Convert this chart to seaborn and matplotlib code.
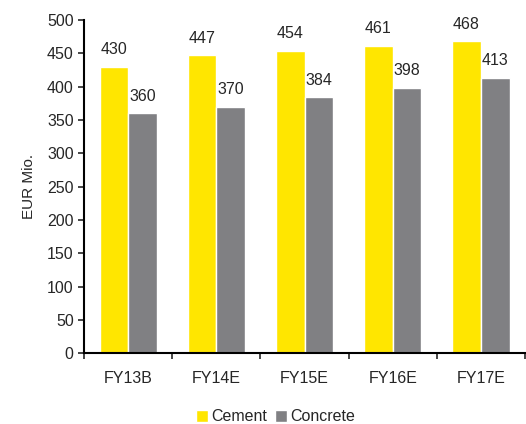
import pandas as pd
import matplotlib.pyplot as plt
import seaborn as sns

# Revenue by segment (EUR Mio.)
years = ["FY13B", "FY14E", "FY15E", "FY16E", "FY17E"]
cement = [430, 447, 454, 461, 468]
concrete = [360, 370, 384, 398, 413]

df = pd.DataFrame({
    "year": years * 2,
    "segment": ["Cement"] * len(years) + ["Concrete"] * len(years),
    "value": cement + concrete,
})

sns.set_style("white")
plt.rcParams["font.family"] = ["Liberation Sans", "DejaVu Sans"]

fig = plt.figure(figsize=(5.26, 4.24), dpi=100)
ax = fig.add_axes([0.16, 0.167, 0.838, 0.786])

palette = {"Cement": "#FFE600", "Concrete": "#808083"}
sns.barplot(data=df, x="year", y="value", hue="segment", palette=palette,
            width=0.65, saturation=1, ax=ax, legend=True)

for cont in ax.containers:
    ax.bar_label(cont, fmt="%d", padding=7, fontsize=11.5)

ax.set_ylim(0, 500)
ax.set_yticks(range(0, 501, 50))
ax.set_xlim(-0.5, 4.5)
ax.set_xlabel("")
ax.set_ylabel("EUR Mio.", fontsize=11, labelpad=8)

# ticks between categories, labels at the centres
ax.set_xticks([i - 0.5 for i in range(len(years) + 1)], minor=True)
ax.tick_params(axis="x", which="minor", length=4, width=1.2, direction="out", bottom=True)
ax.tick_params(axis="x", which="major", length=0, pad=13, labelsize=11.5)
ax.tick_params(axis="y", length=4, width=1.2, direction="out", left=True, labelsize=11.5)

for s in ["top", "right"]:
    ax.spines[s].set_visible(False)
for s in ["left", "bottom"]:
    ax.spines[s].set_color("black")
    ax.spines[s].set_linewidth(1.5)

ax.legend(loc="upper center", bbox_to_anchor=(0.435, -0.125), ncol=2, frameon=False,
          fontsize=11.5, handlelength=0.75, handleheight=0.75, handletextpad=0.2,
          columnspacing=0.5)

plt.savefig("out.png", dpi=100)
